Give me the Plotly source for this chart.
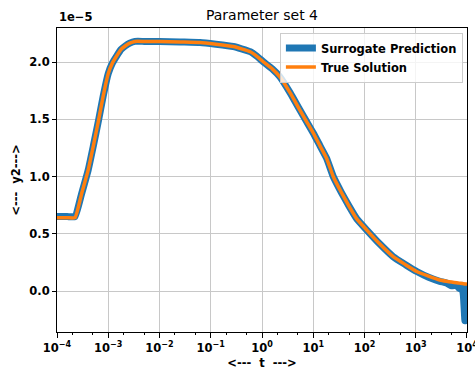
import plotly.graph_objects as go

# log10(t) sample points
log_t = [-4.0, -3.8, -3.65, -3.52, -3.39, -3.29, -3.19, -3.1, -3.0, -2.92, -2.84, -2.75,
         -2.67, -2.58, -2.48, -2.3, -2.0, -1.6, -1.21, -0.9, -0.56, -0.4, -0.23, -0.1,
         0.03, 0.2, 0.35, 0.55, 0.74, 0.87, 1.0, 1.13, 1.26, 1.39, 1.55, 1.7, 1.85,
         2.05, 2.3, 2.56, 2.8, 3.02, 3.25, 3.47, 3.6, 3.7, 3.8, 3.85, 3.9, 3.93,
         3.96, 3.98, 4.0]
t = [10 ** v for v in log_t]

# True solution y2 (units of 1e-5)
y_true = [0.64, 0.64, 0.64, 0.85, 1.06, 1.27, 1.49, 1.70, 1.90, 1.99, 2.05, 2.11,
          2.14, 2.165, 2.18, 2.18, 2.18, 2.175, 2.17, 2.155, 2.135, 2.115, 2.09, 2.05,
          2.00, 1.94, 1.87, 1.73, 1.58, 1.48, 1.38, 1.27, 1.16, 1.0, 0.86, 0.74, 0.63,
          0.53, 0.41, 0.30, 0.23, 0.17, 0.13, 0.096, 0.085, 0.078, 0.072, 0.069, 0.066, 0.064,
          0.062, 0.061, 0.06]

# Surrogate prediction (units of 1e-5)
y_pred = [0.65, 0.65, 0.65, 0.85, 1.06, 1.27, 1.49, 1.70, 1.90, 1.99, 2.05, 2.11,
          2.14, 2.165, 2.18, 2.18, 2.18, 2.175, 2.17, 2.155, 2.135, 2.115, 2.09, 2.05,
          2.00, 1.94, 1.87, 1.73, 1.58, 1.48, 1.38, 1.27, 1.16, 1.0, 0.86, 0.74, 0.63,
          0.53, 0.41, 0.30, 0.23, 0.17, 0.12, 0.085, 0.07, 0.045, 0.05, 0.02, 0.05, -0.04,
          -0.26, 0.0, 0.07]

scale = 1e-5
y_true_v = [v * scale for v in y_true]
y_pred_v = [v * scale for v in y_pred]

y_ticks = [0.0, 0.5, 1.0, 1.5, 2.0]
y_tick_labels = ["0.0", "0.5", "1.0", "1.5", "2.0"]
x_exps = [-4, -3, -2, -1, 0, 1, 2, 3, 4]

FONT = "DejaVu Sans"
FS = 11.5

fig = go.Figure()
fig.add_trace(go.Scatter(x=t, y=y_pred_v, mode="lines", name="Surrogate Prediction",
                         line=dict(color="#1f77b4", width=7, shape="spline", smoothing=0.4)))
fig.add_trace(go.Scatter(x=t, y=y_true_v, mode="lines", name="True Solution",
                         line=dict(color="#ff7f0e", width=3.5, shape="spline", smoothing=0.4)))

fig.update_layout(
    width=475, height=375,
    margin=dict(l=57, r=8, t=28, b=43, autoexpand=False),
    plot_bgcolor="white", paper_bgcolor="white",
    font=dict(family=FONT, size=FS, color="black"),
    title=dict(text="Parameter set 4", x=(57 + 467) / 2 / 475, xanchor="center",
               y=1 - 15 / 375, yanchor="middle",
               font=dict(family=FONT, size=14, color="black")),
    legend=dict(x=0.99, y=0.985, xanchor="right", yanchor="top",
                bgcolor="rgba(255,255,255,0.8)", bordercolor="#cccccc", borderwidth=1,
                font=dict(family=FONT, size=FS, weight="bold"),
                itemwidth=30, tracegroupgap=0),
    showlegend=True,
)

fig.update_xaxes(
    type="log", range=[-4.0005, 4.0005], automargin=False,
    tickvals=[10 ** e for e in x_exps],
    ticktext=[f"10<sup>{e}</sup>".replace("-", "\u2212") for e in x_exps],
    tickfont=dict(family=FONT, size=FS, weight="bold"),
    ticklabeloverflow="allow",
    ticks="outside", ticklen=5, tickcolor="black",
    showline=True, linecolor="black", linewidth=1, mirror=True,
    showgrid=True, gridcolor="#c8c8c8", gridwidth=1,
    minor=dict(ticks="outside", ticklen=2, tickcolor="black", showgrid=False),
    title=dict(text="<---  t  --->", font=dict(family=FONT, size=FS, weight="bold"), standoff=5),
    zeroline=False,
)
fig.update_yaxes(
    range=[-0.358e-5, 2.297e-5], automargin=False,
    tickvals=[v * scale for v in y_ticks],
    ticktext=y_tick_labels,
    tickfont=dict(family=FONT, size=FS, weight="bold"),
    ticks="outside", ticklen=4, tickcolor="black",
    showline=True, linecolor="black", linewidth=1, mirror=True,
    showgrid=True, gridcolor="#c8c8c8", gridwidth=1,
    title=dict(text="<---  y2--->", font=dict(family=FONT, size=FS, weight="bold"), standoff=6),
    zeroline=False,
)

fig.add_annotation(text="1e\u22125", xref="paper", yref="paper", x=0, y=1,
                   xanchor="left", yanchor="bottom", yshift=2, showarrow=False,
                   font=dict(family=FONT, size=FS, weight="bold", color="black"))

fig.write_html("out.html")
